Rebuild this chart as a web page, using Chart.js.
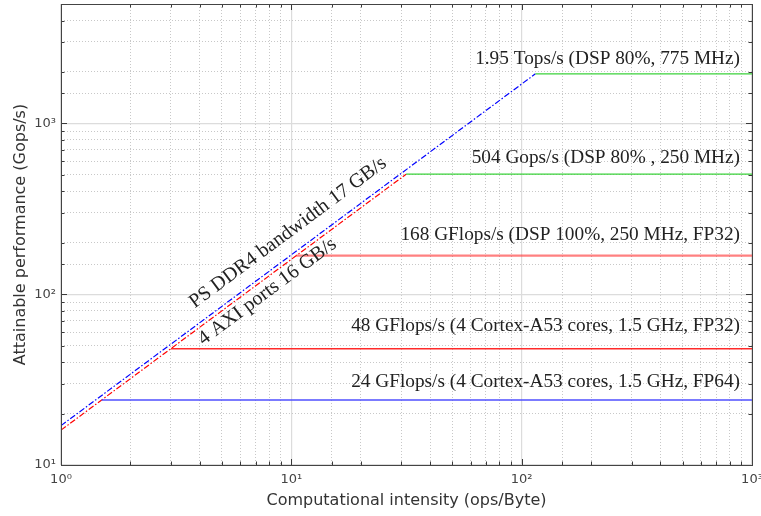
<!DOCTYPE html>
<html>
<head>
<meta charset="utf-8">
<script src="https://cdn.jsdelivr.net/npm/chart.js@4.4.0/dist/chart.umd.min.js"></script>
<style>
  html, body { margin: 0; padding: 0; background: #fff; }
  #wrap { width: 761px; height: 516px; }
</style>
</head>
<body>
<div id="wrap"><canvas id="roofline" width="761" height="516"></canvas></div>
<script>
// memory-bound ceilings, end points (ops/Byte, Gops/s)
const ddrLine = [{x: 1, y: 17}, {x: 114.7, y: 1950}];
const axiLine = [{x: 1, y: 16}, {x: 31.5, y: 504}];

// compute ceilings
const roofValues = [24, 48, 168, 504, 1950];
const roofStarts = [1.5, 3, 10.5, 31.5, 114.7];
const roofEnd = 1000;
const roofLabels = [
  "24 GFlops/s (4 Cortex-A53 cores, 1.5 GHz, FP64)",
  "48 GFlops/s (4 Cortex-A53 cores, 1.5 GHz, FP32)",
  "168 GFlops/s (DSP 100%, 250 MHz, FP32)",
  "504 Gops/s (DSP 80% , 250 MHz)",
  "1.95 Tops/s (DSP 80%, 775 MHz)"
];

const xTicks = [1, 10, 100, 1000];
const xTickLabels = ["10\u2070", "10\u00b9", "10\u00b2", "10\u00b3"];
const yTicks = [10, 100, 1000];
const yTickLabels = ["10\u00b9", "10\u00b2", "10\u00b3"];

// styles
const roofColors = ["#4f4fff", "#ff2a2a", "rgba(255,60,60,0.65)", "#3ad23a", "#3ad23a"];
const roofWidths = [1.5, 1.5, 2.2, 1.2, 1.2];
const labelGap = [13, 18, 16, 11, 10];

const isDecade = v => Math.abs(Math.log10(v) - Math.round(Math.log10(v))) < 1e-9;

const datasets = roofValues.map((v, i) => ({
  data: [{x: roofStarts[i], y: v}, {x: roofEnd, y: v}],
  borderColor: roofColors[i],
  borderWidth: roofWidths[i]
}));
datasets.push({data: ddrLine, borderColor: "#0000ff", borderWidth: 1.2, borderDash: [6, 2, 1.5, 2]});
datasets.push({data: axiLine, borderColor: "#ff0000", borderWidth: 1.2, borderDash: [6, 2, 1.5, 2]});

const serif = "19.3px 'Liberation Serif', serif";
const serifSlant = "20px 'Liberation Serif', serif";

const annotations = {
  id: "annotations",
  afterDatasetsDraw(chart) {
    const {ctx, chartArea: a, scales: {x, y}} = chart;
    ctx.save();
    ctx.fillStyle = "#222";
    ctx.font = serif;

    // ceiling labels, right aligned above each roof
    ctx.textAlign = "right";
    ctx.textBaseline = "alphabetic";
    roofValues.forEach((v, i) => {
      ctx.fillText(roofLabels[i], a.right - 12, y.getPixelForValue(v) - labelGap[i]);
    });

    // slanted bandwidth labels
    ctx.font = serifSlant;
    const slanted = (line, atX, text, gap) => {
      const p0 = line[0], p1 = line[1];
      const x0 = x.getPixelForValue(p0.x), y0 = y.getPixelForValue(p0.y);
      const x1 = x.getPixelForValue(p1.x), y1 = y.getPixelForValue(p1.y);
      const ang = Math.atan2(y1 - y0, x1 - x0);
      const slope = Math.log10(p1.y / p0.y) / Math.log10(p1.x / p0.x);
      const yv = p0.y * Math.pow(atX / p0.x, slope);
      const px = x.getPixelForValue(atX), py = y.getPixelForValue(yv);
      ctx.save();
      ctx.translate(px - Math.sin(-ang) * gap, py - Math.cos(ang) * gap);
      ctx.rotate(ang);
      ctx.textAlign = "left";
      ctx.fillText(text, 0, 0);
      ctx.restore();
    };
    slanted(ddrLine, 4.15, "PS DDR4 bandwidth 17 GB/s", 14.5);
    slanted(axiLine, 3.76, "4 AXI ports 16 GB/s", -17);
    ctx.restore();
  }
};

const boxTicks = {
  id: "boxTicks",
  afterDatasetsDraw(chart) {
    const {ctx, chartArea: a, scales: {x, y}} = chart;
    ctx.save();
    ctx.strokeStyle = "#3a3a3a";
    ctx.lineWidth = 1;
    ctx.beginPath();
    x.ticks.forEach(t => {
      const px = Math.round(x.getPixelForValue(t.value)) + 0.5;
      const len = isDecade(t.value) ? 6 : 3.5;
      ctx.moveTo(px, a.bottom); ctx.lineTo(px, a.bottom - len);
      ctx.moveTo(px, a.top); ctx.lineTo(px, a.top + len);
    });
    y.ticks.forEach(t => {
      const py = Math.round(y.getPixelForValue(t.value)) + 0.5;
      const len = isDecade(t.value) ? 6 : 3.5;
      ctx.moveTo(a.left, py); ctx.lineTo(a.left + len, py);
      ctx.moveTo(a.right, py); ctx.lineTo(a.right - len, py);
    });
    ctx.stroke();
    ctx.strokeStyle = "#444";
    ctx.strokeRect(Math.round(a.left) + 0.5, Math.round(a.top) + 0.5,
      Math.round(a.right - a.left), Math.round(a.bottom - a.top));
    ctx.restore();
  }
};

const gridOpts = {
  drawTicks: false,
  color: c => (c.tick && isDecade(c.tick.value)) ? "#dcdcdc" : "#c8c8c8",
  lineWidth: c => (c.tick && isDecade(c.tick.value)) ? 1.2 : 1
};
const borderOpts = {
  display: false,
  dash: c => (c.tick && !isDecade(c.tick.value)) ? [1, 2] : []
};
const tickFont = {family: "'DejaVu Sans', sans-serif", size: 13};
const titleFont = {family: "'DejaVu Sans', sans-serif", size: 16};

new Chart(document.getElementById("roofline"), {
  type: "scatter",
  data: {datasets},
  plugins: [annotations, boxTicks],
  options: {
    responsive: false,
    animation: false,
    showLine: true,
    elements: {point: {radius: 0}, line: {tension: 0}},
    layout: {padding: {top: 4, right: 9, left: 0, bottom: 0}},
    plugins: {legend: {display: false}, tooltip: {enabled: false}},
    scales: {
      x: {
        type: "logarithmic",
        min: 1, max: 1000,
        grid: gridOpts,
        border: borderOpts,
        afterFit: s => { s.height = 51; s.paddingLeft = 0; s.paddingRight = 0; },
        ticks: {
          autoSkip: false, maxRotation: 0, padding: 7,
          color: "#444", font: tickFont,
          callback: v => { const i = xTicks.indexOf(v); return i < 0 ? "" : xTickLabels[i]; }
        },
        title: {display: true, text: "Computational intensity (ops/Byte)", color: "#333",
          font: titleFont, padding: {top: 0, bottom: 6}}
      },
      y: {
        type: "logarithmic",
        min: 10, max: 5000,
        grid: gridOpts,
        border: borderOpts,
        afterFit: s => { s.width = 61; s.paddingTop = 0; s.paddingBottom = 0; },
        ticks: {
          autoSkip: false, padding: 5,
          color: "#444", font: tickFont,
          callback: v => { const i = yTicks.indexOf(v); return i < 0 ? "" : yTickLabels[i]; }
        },
        title: {display: true, text: "Attainable performance (Gops/s)", color: "#333",
          font: titleFont, padding: {top: 11, bottom: 0}}
      }
    }
  }
});
</script>
</body>
</html>
